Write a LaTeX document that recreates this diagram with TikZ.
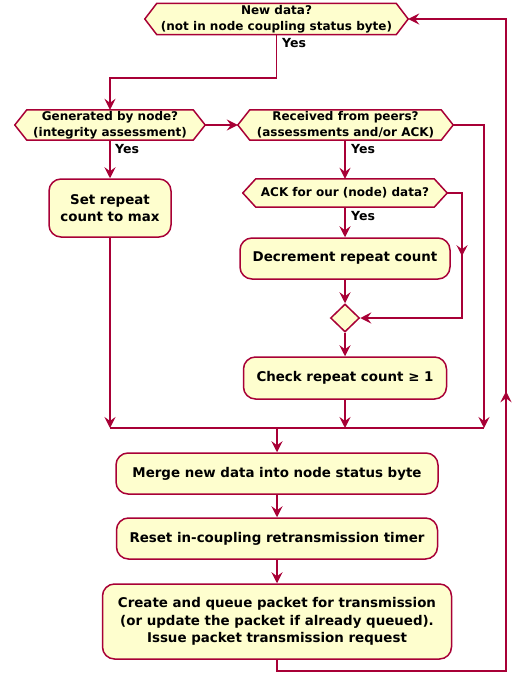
\documentclass[tikz,border=0pt]{standalone}
\usepackage{fontspec}
\setmainfont{DejaVu Sans}
\usetikzlibrary{arrows.meta,shapes.geometric,backgrounds,decorations.markings}
\definecolor{umlfill}{HTML}{FEFECE}
\definecolor{umlline}{HTML}{A80036}
\tikzset{
 box/.style={draw=umlline, fill=umlfill, line width=1.5pt, rounded corners=12pt, inner sep=0pt, align=center, font=\fontsize{13.4}{17.3}\selectfont\bfseries},
 hextext/.style={inner sep=0pt, align=center, font=\fontsize{12}{16}\selectfont\bfseries},
 hexline/.style={draw=umlline, fill=umlfill, line width=1.5pt, line join=miter},
 line/.style={draw=umlline, color=umlline, line width=1.5pt},
 flow/.style={line, -{Stealth[length=11pt,width=11pt,inset=4pt]}},
 yes/.style={font=\fontsize{12.5}{14}\selectfont\bfseries, inner sep=0pt, anchor=west},
 midarrow/.style={postaction={decorate}, decoration={markings, mark=at position #1 with {\arrow{Stealth[length=11pt,width=11pt,inset=4pt]}}}},
 merge/.style={draw=umlline, fill=umlfill, line width=1.5pt, shape=diamond, inner sep=0pt, minimum width=29pt, minimum height=28pt},
}
\newcommand\hexshape[2]{%
 \draw[hexline] (#1.north west) -- (#1.north east) -- ([xshift=#2]#1.east) -- (#1.south east) -- (#1.south west) -- ([xshift=-#2]#1.west) -- cycle;
 \coordinate (#1-l) at ([xshift=-#2]#1.west);
 \coordinate (#1-r) at ([xshift=#2]#1.east);}
\begin{document}
\begin{tikzpicture}[x=1pt,y=-1pt]
\useasboundingbox (0,0) rectangle (517,677);
% decisions
\node[hextext, minimum width=239pt, minimum height=31pt] (nd) at (276.5,19) {New data?\\(not in node coupling status byte)};
\node[hextext, minimum width=166pt, minimum height=30pt] (gen) at (110,125) {Generated by node?\\(integrity assessment)};
\node[hextext, minimum width=191pt, minimum height=30pt] (rec) at (345.5,125) {Received from peers?\\(assessments and/or ACK)};
\node[hextext, minimum width=178pt, minimum height=28pt] (ack) at (345,193) {ACK for our (node) data?};
\begin{scope}[on background layer]
 \hexshape{nd}{12pt}
 \hexshape{gen}{12pt}
 \hexshape{rec}{12pt}
 \hexshape{ack}{13pt}
\end{scope}
% actions
\node[box, minimum width=122pt, minimum height=58pt] (set) at (110,208) {Set repeat\\count to max};
\node[box, minimum width=210pt, minimum height=41pt] (dec) at (345,258.5) {Decrement repeat count};
\node[merge] (dia) at (345,318) {};
\node[box, minimum width=203pt, minimum height=42pt] (check) at (345,378) {Check repeat count ≥ 1};
\node[box, minimum width=322pt, minimum height=41pt] (mrg) at (277,473.5) {Merge new data into node status byte};
\node[box, minimum width=321pt, minimum height=41pt] (reset) at (277,538.5) {Reset in-coupling retransmission timer};
\node[box, minimum width=349pt, minimum height=75pt] (create) at (277,621.5) {Create and queue packet for transmission\\(or update the packet if already queued).\\Issue packet transmission request};
% yes labels
\node[yes] (y1) at (282,43) {Yes};
\node[yes] (y2) at (115,149) {Yes};
\node[yes] (y3) at (351,149) {Yes};
\node[yes] (y4) at (351,216) {Yes};
% junction coordinates
\coordinate (j1) at (110,428);
\coordinate (j2) at (345,428);
\coordinate (j3) at (484,428);
\coordinate (jm) at (277,428);
% connectors
\draw[flow] (nd.south) -- (276.5,78) -- (110,78) -- (gen.north);
\draw[flow] (gen-r) -- (rec-l);
\draw[flow] (gen.south) -- (set.north);
\draw[flow] (set.south) -- (j1);
\draw[flow] (rec.south -| ack.south) -- (ack.north);
\draw[flow] (rec-r) -- (484,125) -- (j3);
\draw[flow] (ack.south) -- (dec.north);
\draw[flow, midarrow=78pt] (ack-r) -- (462,193) -- (462,318) -- (dia.east);
\draw[flow] (dec.south) -- (dia.north);
\draw[flow] (dia.south) -- (check.north);
\draw[flow] (check.south) -- (j2);
\draw[line] (j1) -- (j3);
\draw[flow] (jm) -- (mrg.north);
\draw[flow] (mrg.south) -- (reset.north);
\draw[flow] (reset.south) -- (create.north);
\draw[flow, midarrow=520pt] (create.south) -- (277,671) -- (506,671) -- (506,19) -- (nd-r);
\end{tikzpicture}
\end{document}
